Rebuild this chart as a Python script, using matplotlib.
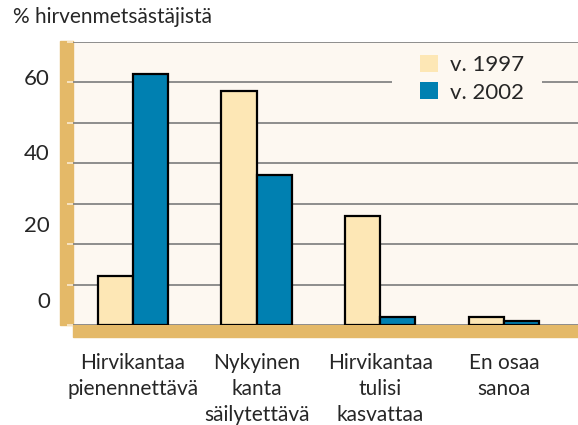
import matplotlib
matplotlib.use("Agg")
import matplotlib.pyplot as plt
import numpy as np
from matplotlib.patches import Rectangle
import matplotlib.transforms as mtransforms

categories = ["Hirvikantaa\npienennettävä", "Nykyinen\nkanta\nsäilytettävä",
              "Hirvikantaa\ntulisi\nkasvattaa", "En osaa\nsanoa"]
vals_1997 = [12, 58, 27, 2]
vals_2002 = [62, 37, 2, 1]
series_names = ["v. 1997", "v. 2002"]
ytick_vals = [0, 20, 40, 60]
ytick_label_pos = [5.6, 24.4, 42.4, 60.8]

BAND = "#E4B968"
BG = "#FDF8F1"
C97 = "#FDE7B5"
C02 = "#0080B1"
GRID = "#858585"
TXT = "#262626"

plt.rcParams['font.family'] = ['Lato', 'DejaVu Sans']

fig = plt.figure(figsize=(5.78, 4.25), dpi=100)
W, H = 578, 425
ax = fig.add_axes([73 / W, (425 - 325) / H, (578 - 73) / W, (325 - 42) / H])
ax.set_facecolor(BG)

x = np.arange(len(categories))
bw = 0.285
ax.bar(x - bw / 2, vals_1997, bw, color=C97, edgecolor="black", linewidth=1.6,
       label=series_names[0], zorder=3)
ax.bar(x + bw / 2, vals_2002, bw, color=C02, edgecolor="black", linewidth=1.6,
       label=series_names[1], zorder=3)

ax.set_xlim(-0.486, 3.6)
ax.set_ylim(0, 70)
ax.set_yticks(range(0, 71, 10))
ax.set_yticklabels([])
ax.yaxis.grid(True, color=GRID, linewidth=1.3, zorder=1)
ax.set_axisbelow(True)
ax.tick_params(axis='y', length=4, width=1.2, color="#FBEBD0", direction='out', pad=2)

ax.set_xticks(x)
ax.set_xticklabels(categories, fontsize=15, color=TXT, linespacing=1.38)
ax.tick_params(axis='x', length=0, pad=20)

for s in ax.spines.values():
    s.set_visible(False)

# bands
ax.add_patch(Rectangle((-13 / 505, 0), 13 / 505, 1.005, transform=ax.transAxes,
                       color=BAND, clip_on=False, zorder=0))
ax.add_patch(Rectangle((0, -12 / 283), 1, 12 / 283, transform=ax.transAxes,
                       color=BAND, clip_on=False, zorder=0))

# legend background box (hides gridline behind legend)
ax.add_patch(Rectangle(((392 - 73) / 505, (325 - 118) / 283), 150 / 505, 72 / 283,
                       transform=ax.transAxes, color=BG, zorder=2, linewidth=0))

trans = mtransforms.blended_transform_factory(ax.transAxes, ax.transData)
for v, p in zip(ytick_vals, ytick_label_pos):
    ax.text(-23 / 505, p, str(v), transform=trans, ha='right', va='center',
            fontsize=16, color=TXT)

leg = ax.legend(loc='upper left', bbox_to_anchor=((420 - 73) / 505, (325 - 55) / 283),
                frameon=False, fontsize=16, borderpad=0, handlelength=0.8,
                handleheight=0.8, handletextpad=0.55, labelspacing=0.32,
                borderaxespad=0)
for h in leg.legend_handles:
    h.set_edgecolor('none')
for t in leg.get_texts():
    t.set_color(TXT)
leg.set_zorder(5)

fig.text(13 / W, 1 - 17 / H, "% hirvenmetsästäjistä", ha='left', va='center',
         fontsize=15, color=TXT)

fig.savefig("out.png", dpi=100)
